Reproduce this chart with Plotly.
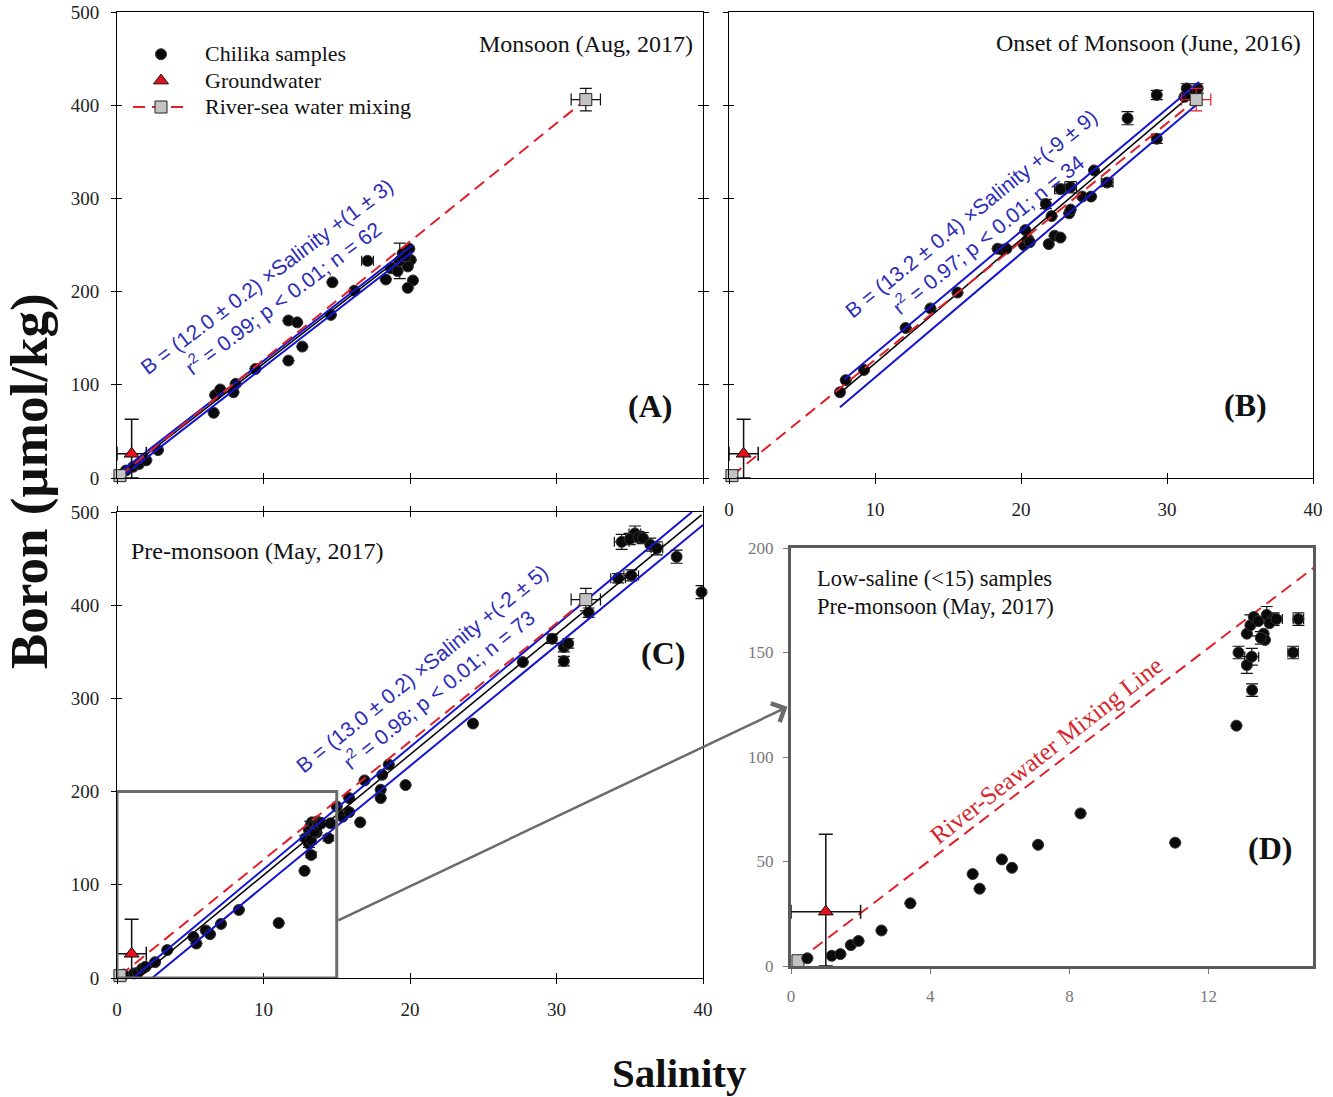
import plotly.graph_objects as go

W, H = 1333, 1097
SERIF = "Liberation Serif, Times New Roman, serif"
SANS = "Liberation Sans, Arial, sans-serif"

# ---------------- data ----------------
# Panel A : Monsoon (Aug, 2017)
a_sal = [0.6, 1.1, 1.5, 2.0, 2.8, 6.6, 6.7, 7.05, 7.95, 8.1, 9.45, 11.7, 12.3, 11.7, 12.65,
         14.6, 14.7, 16.2, 17.1, 18.35, 18.7, 19.15, 19.5, 19.95, 20.05, 19.85, 20.2, 19.85, 19.3, 19.7]
a_bor = [8, 12, 15, 19, 30, 70, 89, 95, 92, 101, 117, 169, 167, 126, 141,
         175, 210, 201, 233, 213, 225, 222, 241, 246, 234, 227, 212, 204, 233, 238]
a_berr = [0, 0, 0, 0, 0, 0, 0, 0, 0, 0, 0, 0, 0, 0, 0,
          0, 0, 0, 0, 0, 0, 0, 0, 0, 0, 0, 0, 0, 19, 0]
a_serr = [0, 0, 0, 0, 0, 0, 0, 0, 0, 0, 0, 0, 0, 0, 0,
          0, 0, 0, 0.4, 0, 0, 0, 0, 0, 0, 0, 0, 0, 0, 0]
a_fit_sal, a_fit_bor = [0.1, 20.2], [2, 247]
a_up_sal, a_up_bor = [0.1, 20.2], [5, 250]
a_lo_sal, a_lo_bor = [0.4, 20.2], [2, 243]

# Panel B : Onset of Monsoon (June, 2016)
b_sal = [7.6, 8.0, 9.25, 12.1, 13.8, 15.65, 18.4, 18.7, 19.0, 20.3, 20.2, 20.5, 20.6, 21.9, 21.7,
         22.1, 22.3, 22.7, 22.7, 23.4, 23.3, 23.4, 24.2, 24.8, 25.0, 25.9, 27.3, 29.3, 29.3, 31.2,
         31.35, 31.6, 31.9, 32.1]
b_bor = [92, 105, 116, 161, 182, 199, 246, 245, 246, 266, 250, 256, 253, 251, 294,
         281, 260, 258, 310, 312, 284, 288, 302, 302, 330, 317, 386, 411, 364, 409,
         418, 411, 414, 418]
b_berr = [0, 0, 0, 0, 0, 0, 0, 0, 0, 0, 0, 0, 0, 0, 5,
          0, 0, 0, 5, 6, 0, 0, 0, 0, 0, 4, 7, 5, 5, 0,
          5, 0, 0, 5]
b_serr = [0, 0, 0, 0, 0, 0, 0, 0, 0, 0, 0, 0, 0, 0, 0,
          0, 0, 0, 0.4, 0.4, 0, 0, 0, 0, 0, 0.4, 0, 0, 0, 0,
          0, 0, 0, 0]
b_fit_sal, b_fit_bor = [7.6, 32.1], [91, 417]
b_up_sal, b_up_bor = [7.9, 32.2], [106, 425]
b_lo_sal, b_lo_bor = [7.6, 32.2], [76, 403]

# Panel C : Pre-monsoon (May, 2017)  (panel D shows its low-saline part)
c_sal = [0.47, 1.17, 1.42, 1.72, 1.94, 2.6, 3.43, 5.22, 5.42, 6.06, 6.35, 7.1, 8.32, 11.04, 12.8,
         12.86, 13.25, 13.1, 13.24, 13.1, 13.2, 13.3, 13.43, 13.58, 13.62, 13.67, 13.87, 13.5, 13.75, 13.95,
         14.43, 14.58,
         15.0, 15.4, 15.85, 15.85, 16.6, 16.9, 18.0, 18.0, 18.1, 18.55, 19.7, 24.3, 27.7, 29.7,
         30.5, 30.8, 30.5, 32.2, 34.2, 35.1, 34.45, 35.35, 35.0, 35.6, 35.9, 36.4, 36.85, 38.2, 39.9]
c_bor = [3.7, 4.9, 5.7, 10, 12, 17, 30, 44, 37, 51, 47, 58, 73, 59, 115,
         150, 132, 144, 148, 159, 163, 167, 165, 159, 156, 168, 166, 157, 164, 166,
         150, 166,
         184, 173, 193, 178, 167, 212, 202, 193, 218, 229, 207, 273, 339, 364,
         355, 359, 340, 392, 429, 432, 468, 477, 471, 473, 472, 465, 461, 452, 414]
c_berr = [0, 0, 0, 0, 0, 0, 0, 0, 0, 0, 0, 0, 0, 0, 0,
          3, 3, 4, 4, 0, 5, 0, 0, 0, 0, 4, 3, 3, 0, 0,
          3, 3,
          0, 0, 0, 0, 0, 0, 0, 0, 0, 0, 0, 0, 0, 5,
          5, 5, 5, 5, 5, 6, 8, 8, 6, 6, 6, 7, 7, 7, 7]
c_serr = [0, 0, 0, 0, 0, 0, 0, 0, 0, 0, 0, 0, 0, 0, 0,
          0, 0, 0, 0.2, 0, 0, 0, 0, 0, 0, 0, 0.25, 0, 0, 0,
          0.15, 0.15,
          0, 0, 0, 0, 0, 0, 0, 0, 0, 0, 0, 0, 0, 0,
          0, 0, 0, 0, 0.5, 0.5, 0.5, 0.4, 0, 0, 0, 0, 0.4, 0, 0]
c_fit_sal, c_fit_bor = [1.46, 39.9], [0, 497]
c_up_sal, c_up_bor = [1.1, 39.25], [0, 500]
c_lo_sal, c_lo_bor = [2.4, 40.0], [0, 486]
d_max_sal = 14.95

# end-members: river water and seawater (mixing line), groundwater
end_sal = [0.2, 32.0]
end_bor = [2.5, 406]
end_sal_err = [0, 1.0]
end_bor_err = [0, 12]
gw_sal = [1.0]
gw_bor = [26]
gw_sal_err = [1.0]
gw_bor_err_up = [37]
gw_bor_err_down = [26]

# texts
panel_titles = ["Monsoon (Aug, 2017)", "Onset of Monsoon (June, 2016)", "Pre-monsoon (May, 2017)"]
equations = [
    "B = (12.0 ± 0.2) ×Salinity +(1 ± 3)<br>r<sup>2</sup> = 0.99; p &lt; 0.01; n = 62",
    "B = (13.2 ± 0.4) ×Salinity +(-9 ± 9)<br>r<sup>2</sup> = 0.97; p &lt; 0.01; n = 34",
    "B = (13.0 ± 0.2) ×Salinity +(-2 ± 5)<br>r<sup>2</sup> = 0.98; p &lt; 0.01; n = 73",
]
panel_letters = ["(A)", "(B)", "(C)", "(D)"]
d_titles = ["Low-saline (&lt;15) samples", "Pre-monsoon (May, 2017)"]
legend_names = ["Chilika samples", "Groundwater", "River-sea water mixing"]
inset_sal = [0, 15]
inset_bor = [0, 200]

# ---------------- layout geometry (pixels) ----------------
PANELS = {
    "A": dict(px=(117, 703, 12, 478), xr=(0, 40), yr=(0, 500), xa="x", ya="y"),
    "B": dict(px=(729, 1313, 12, 478), xr=(0, 40), yr=(0, 500), xa="x2", ya="y2"),
    "C": dict(px=(117, 703, 512, 978), xr=(0, 40), yr=(0, 500), xa="x3", ya="y3"),
    "D": dict(px=(791, 1313, 548, 966), xr=(0, 15), yr=(0, 200), xa="x4", ya="y4"),
}


def dom_x(p):
    l, r, t, b = p["px"]
    return [l / W, r / W]


def dom_y(p):
    l, r, t, b = p["px"]
    return [1 - b / H, 1 - t / H]


def to_px(p, s, v):
    l, r, t, b = p["px"]
    x0, x1 = p["xr"]
    y0, y1 = p["yr"]
    return l + (s - x0) / (x1 - x0) * (r - l), b - (v - y0) / (y1 - y0) * (b - t)


fig = go.Figure()

BLUE = "#1414d2"
RED = "#e0202a"
EQ_BLUE = "#2d2db8"


def leg(name):
    return '<span style="font-size:22px">&nbsp;&nbsp;' + name + "</span>"


def add_samples(p, sal, bor, serr, berr, legend):
    fig.add_trace(go.Scatter(
        x=sal, y=bor, mode="markers", name=leg(legend_names[0]), showlegend=legend, legendrank=1,
        xaxis=p["xa"], yaxis=p["ya"], cliponaxis=False,
        marker=dict(symbol="circle", size=11, color="#0a0a0a", line=dict(color="#333", width=1)),
        error_y=dict(type="data", array=berr, color="#111", thickness=1.2, width=6),
        error_x=dict(type="data", array=serr, color="#111", thickness=1.2, width=5),
    ))


def add_fit(p, fs, fb, us, ub, ls, lb):
    for s, b in ((us, ub), (ls, lb)):
        fig.add_trace(go.Scatter(x=s, y=b, mode="lines", showlegend=False, xaxis=p["xa"], yaxis=p["ya"],
                                 line=dict(color=BLUE, width=2), hoverinfo="skip"))
    fig.add_trace(go.Scatter(x=fs, y=fb, mode="lines", showlegend=False, xaxis=p["xa"], yaxis=p["ya"],
                             line=dict(color="black", width=1.5), hoverinfo="skip"))


def add_endmembers(p, legend, errcolor="#111"):
    fig.add_trace(go.Scatter(
        x=end_sal, y=end_bor, mode="lines+markers", name=leg(legend_names[2]), showlegend=legend,
        legendrank=3, xaxis=p["xa"], yaxis=p["ya"], cliponaxis=False,
        line=dict(color=RED, width=2, dash="12px,7px"),
        marker=dict(symbol="square", size=12, color="#c3c3c3", line=dict(color="#222", width=1)),
        error_x=dict(type="data", array=end_sal_err, color=errcolor, thickness=1.2, width=6),
        error_y=dict(type="data", array=end_bor_err, color=errcolor, thickness=1.2, width=6),
    ))
    fig.add_trace(go.Scatter(
        x=gw_sal, y=gw_bor, mode="markers", name=leg(legend_names[1]), showlegend=legend, legendrank=2,
        xaxis=p["xa"], yaxis=p["ya"], cliponaxis=False,
        marker=dict(symbol="triangle-up", size=13, color="#e3101c", line=dict(color="#111", width=1)),
        error_x=dict(type="data", array=gw_sal_err, color="#111", thickness=1.5, width=7),
        error_y=dict(type="data", array=gw_bor_err_up, arrayminus=gw_bor_err_down, color="#111",
                     thickness=1.5, width=7),
    ))


A, B, C, D = PANELS["A"], PANELS["B"], PANELS["C"], PANELS["D"]

add_samples(A, a_sal, a_bor, a_serr, a_berr, True)
add_fit(A, a_fit_sal, a_fit_bor, a_up_sal, a_up_bor, a_lo_sal, a_lo_bor)
add_endmembers(A, True)

add_samples(B, b_sal, b_bor, b_serr, b_berr, False)
add_fit(B, b_fit_sal, b_fit_bor, b_up_sal, b_up_bor, b_lo_sal, b_lo_bor)
add_endmembers(B, False, errcolor=RED)

add_samples(C, c_sal, c_bor, c_serr, c_berr, False)
add_fit(C, c_fit_sal, c_fit_bor, c_up_sal, c_up_bor, c_lo_sal, c_lo_bor)
add_endmembers(C, False)

keep = [i for i, s in enumerate(c_sal) if s < d_max_sal]
add_endmembers(D, False)
add_samples(D, [c_sal[i] for i in keep], [c_bor[i] for i in keep],
            [c_serr[i] for i in keep], [c_berr[i] for i in keep], False)

# invisible anchors for the "inside tick" overlay axes
for xa, ya in (("x5", "y"), ("x", "y5"), ("x6", "y2"), ("x2", "y6"), ("x7", "y3"), ("x3", "y7")):
    fig.add_trace(go.Scatter(x=[1], y=[1], xaxis=xa, yaxis=ya, mode="markers", showlegend=False,
                             marker=dict(opacity=0), hoverinfo="skip"))

tickfont = dict(family=SERIF, size=19, color="#222")
base = dict(showgrid=False, zeroline=False, showline=True, linecolor="black", linewidth=1,
            ticks="outside", ticklen=5, tickwidth=1, tickcolor="black", tickfont=tickfont,
            automargin=False)
ghost = dict(showgrid=False, zeroline=False, showline=False, ticks="inside", ticklen=5, tickwidth=1,
             tickcolor="black", showticklabels=False, automargin=False)


def xax(p, anchor, **kw):
    d = dict(base, domain=dom_x(p), range=list(p["xr"]), anchor=anchor, dtick=10, tick0=0,
             ticklabelstandoff=9)
    d.update(kw)
    return d


def yax(p, anchor, **kw):
    d = dict(base, domain=dom_y(p), range=list(p["yr"]), anchor=anchor, dtick=100, tick0=0,
             ticklabelstandoff=8)
    d.update(kw)
    return d


dfont = dict(family=SERIF, size=17, color="#777")
layout = dict(
    width=W, height=H, margin=dict(l=0, r=0, t=0, b=0, autoexpand=False),
    paper_bgcolor="white", plot_bgcolor="white",
    xaxis=xax(A, "y", showticklabels=False, mirror=True),
    yaxis=yax(A, "x", mirror="ticks"),
    xaxis2=xax(B, "y2", mirror=True),
    yaxis2=yax(B, "x2", showticklabels=False, mirror=True),
    xaxis3=xax(C, "y3", mirror="ticks"),
    yaxis3=yax(C, "x3", mirror=True),
    xaxis4=dict(base, domain=dom_x(D), range=list(D["xr"]), anchor="y4", dtick=4, tick0=0,
                linecolor="#5a5a5a", linewidth=3, mirror=True, tickcolor="#777", ticklen=5,
                tickfont=dfont, ticklabelstandoff=8),
    yaxis4=dict(base, domain=dom_y(D), range=list(D["yr"]), anchor="x4", dtick=50, tick0=0,
                linecolor="#5a5a5a", linewidth=3, mirror=True, tickcolor="#777", ticklen=5,
                tickfont=dfont, ticklabelstandoff=6),
    xaxis5=dict(ghost, overlaying="x", anchor="y", range=list(A["xr"]), dtick=10, tick0=0),
    yaxis5=dict(ghost, overlaying="y", anchor="x", range=list(A["yr"]), dtick=100, tick0=0, mirror="ticks"),
    xaxis6=dict(ghost, overlaying="x2", anchor="y2", range=list(B["xr"]), dtick=10, tick0=0),
    yaxis6=dict(ghost, overlaying="y2", anchor="x2", range=list(B["yr"]), dtick=100, tick0=0),
    xaxis7=dict(ghost, overlaying="x3", anchor="y3", range=list(C["xr"]), dtick=10, tick0=0, mirror="ticks"),
    yaxis7=dict(ghost, overlaying="y3", anchor="x3", range=list(C["yr"]), dtick=100, tick0=0),
    legend=dict(x=128 / W, y=1 - 36 / H, xanchor="left", yanchor="top", bgcolor="rgba(0,0,0,0)",
                font=dict(family=SERIF, size=18, color="#111"), itemwidth=56, tracegroupgap=0,
                traceorder="normal"),
    showlegend=True,
)
fig.update_layout(**layout)

ann = []
tfont = dict(family=SERIF, size=24, color="#111")
# panel titles
ann.append(dict(xref="x", yref="y", x=39.45, y=466, text=panel_titles[0], xanchor="right", showarrow=False,
                font=tfont))
ann.append(dict(xref="x2", yref="y2", x=39.3, y=467, text=panel_titles[1], xanchor="right", showarrow=False,
                font=tfont))
ann.append(dict(xref="x3", yref="y3", x=0.8, y=458, text=panel_titles[2], xanchor="left", showarrow=False,
                font=tfont))
# regression equations
for (xr_, yr_, xs, ys, ang), txt in zip((("x", "y", 10.8, 205, -37), ("x2", "y2", 17.15, 273, -39),
                                         ("x3", "y3", 21.4, 321, -39)), equations):
    ann.append(dict(xref=xr_, yref=yr_, x=xs, y=ys, text=txt, textangle=ang, showarrow=False,
                    font=dict(family=SANS, size=21, color=EQ_BLUE)))
# panel letters
for (xr_, yr_, xs, ys), txt in zip((("x", "y", 36.4, 77), ("x2", "y2", 35.4, 78), ("x3", "y3", 37.3, 349),
                                    ("x4", "y4", 13.76, 56.5)), panel_letters):
    ann.append(dict(xref=xr_, yref=yr_, x=xs, y=ys, text="<b>" + txt + "</b>", showarrow=False,
                    font=dict(family=SERIF, size=32, color="#111")))
# panel D titles
for ys, txt in zip((185.6, 171.8), d_titles):
    ann.append(dict(xref="x4", yref="y4", x=0.7, y=ys, text=txt, xanchor="left", showarrow=False,
                    font=dict(family=SERIF, size=22.5, color="#111")))
ann.append(dict(xref="x4", yref="y4", x=7.33, y=103, text="River-Seawater Mixing Line", textangle=-38,
                showarrow=False, font=dict(family=SERIF, size=25, color="#d8262e")))
# arrow from inset box in C to panel D
tx, ty = to_px(C, inset_sal[1], 61)
hx, hy = to_px(D, -0.1, 124)
ann.append(dict(xref="paper", yref="paper", x=hx / W, y=1 - hy / H, axref="pixel", ayref="pixel",
                ax=tx - hx, ay=ty - hy, text="", xanchor="center", yanchor="middle",
                showarrow=True, arrowhead=4, arrowsize=1.6, arrowwidth=2.5, arrowcolor="#6b6b6b"))
# axis titles
ann.append(dict(xref="paper", yref="paper", x=30 / W, y=1 - 481 / H, text="<b>Boron (µmol/kg)</b>",
                xanchor="center", yanchor="middle",
                textangle=-90, showarrow=False, font=dict(family=SERIF, size=53, color="#111")))
ann.append(dict(xref="paper", yref="paper", x=679 / W, y=1 - 1073 / H, text="<b>Salinity</b>",
                xanchor="center", yanchor="middle",
                showarrow=False, font=dict(family=SERIF, size=41, color="#111")))
fig.update_layout(annotations=ann)

fig.add_shape(type="rect", xref="x3", yref="y3", x0=inset_sal[0], x1=inset_sal[1], y0=inset_bor[0],
              y1=inset_bor[1], line=dict(color="#6b6b6b", width=3), layer="above")

fig.write_html("out.html")
